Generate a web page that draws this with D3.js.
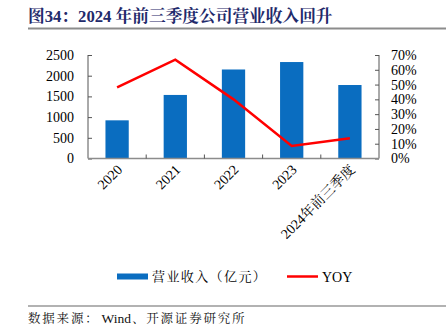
<!DOCTYPE html>
<html><head><meta charset="utf-8">
<script src="https://cdn.jsdelivr.net/npm/d3@7"></script>
<style>body{margin:0;background:#fff;}svg{display:block;}</style>
</head><body>
<script>
const categories = ["2020", "2021", "2022", "2023", "2024年前三季度"];
const revenue = [922, 1535, 2150, 2330, 1775];
const yoy = [0.481, 0.668, 0.40, 0.085, 0.137];
const leftTicks = [0, 500, 1000, 1500, 2000, 2500];
const rightTicks = [0, 0.1, 0.2, 0.3, 0.4, 0.5, 0.6, 0.7];
const title = "图34：2024 年前三季度公司营业收入回升";
const sourceParts = ["数据来源：", "Wind", "、开源证券研究所"];
const legendLabels = ["营业收入（亿元）", "YOY"];

(function () {
const W = 446, H = 336;
const svg = d3.select("body").append("svg").attr("width", W).attr("height", H);
const serif = "'Liberation Serif','Times New Roman','Noto Serif CJK SC','Noto Sans CJK SC',serif";

// title
svg.append("text").attr("x", 28).attr("y", 22).text(title)
  .attr("font-family", serif).attr("font-weight", "bold").attr("font-size", 16.7)
  .attr("fill", "#1F2A6B");
svg.append("line").attr("x1", 28).attr("x2", 446).attr("y1", 28.5).attr("y2", 28.5)
  .attr("stroke", "#8c8c8c").attr("stroke-width", 2);

const pL = 88, pR = 379, pT = 55, pB = 158.5;
const x = d3.scaleBand().domain(categories).range([pL, pR]).paddingInner(0.6).paddingOuter(0.3);
const xb = d3.scaleBand().domain(categories).range([pL, pR]);
const yL = d3.scaleLinear().domain([0, 2500]).range([pB, pT]);
const yR = d3.scaleLinear().domain([0, 0.7]).range([pB, pT]);

// bars
svg.append("g").selectAll("rect").data(revenue).join("rect")
  .attr("x", (d, i) => x(categories[i]))
  .attr("width", x.bandwidth())
  .attr("y", d => yL(d))
  .attr("height", d => pB - yL(d))
  .attr("fill", "#0A6DC0");

// left axis
const gL = svg.append("g").attr("transform", `translate(${pL},0)`)
  .call(d3.axisRight(yL).tickValues(leftTicks).tickSize(4).tickFormat(d3.format("d")));
gL.select(".domain").remove();
gL.append("line").attr("x1", 0).attr("x2", 0).attr("y1", pT).attr("y2", pB).attr("stroke", "#555");
gL.selectAll(".tick line").attr("stroke", "#555");
gL.selectAll(".tick text").attr("x", -14).attr("text-anchor", "end")
  .attr("font-family", serif).attr("font-size", 14).attr("fill", "#000");

// right axis
const gR = svg.append("g").attr("transform", `translate(${pR},0)`)
  .call(d3.axisLeft(yR).tickValues(rightTicks).tickSize(4).tickFormat(d3.format(".0%")));
gR.select(".domain").remove();
gR.append("line").attr("x1", 0).attr("x2", 0).attr("y1", pT).attr("y2", pB).attr("stroke", "#555");
gR.selectAll(".tick line").attr("stroke", "#555");
gR.selectAll(".tick text").attr("x", 12).attr("text-anchor", "start")
  .attr("font-family", serif).attr("font-size", 14).attr("fill", "#000");

// x axis
const gX = svg.append("g").attr("transform", `translate(0,${pB})`);
gX.append("line").attr("x1", pL).attr("x2", pR).attr("y1", 0).attr("y2", 0)
  .attr("stroke", "#8c8c8c").attr("stroke-width", 1.5);
gX.selectAll("line.t").data(categories.slice(1)).join("line").attr("class", "t")
  .attr("x1", d => xb(d)).attr("x2", d => xb(d)).attr("y1", 0).attr("y2", -4)
  .attr("stroke", "#555");
gX.selectAll("text").data(categories).join("text")
  .attr("transform", d => `translate(${xb(d) + xb.bandwidth() / 2 + 6},${12}) rotate(-45)`)
  .attr("text-anchor", "end")
  .attr("font-family", serif).attr("font-size", 14).attr("fill", "#000")
  .text(d => d);

// line
const line = d3.line().x((d, i) => xb(categories[i]) + xb.bandwidth() / 2).y(d => yR(d));
svg.append("path").datum(yoy).attr("d", line)
  .attr("fill", "none").attr("stroke", "#FF0000").attr("stroke-width", 2.5);

// legend
svg.append("rect").attr("x", 117).attr("y", 273.5).attr("width", 31).attr("height", 6).attr("fill", "#0A6DC0");
svg.append("text").attr("x", 152).attr("y", 281).text(legendLabels[0])
  .attr("font-family", serif).attr("font-size", 13).attr("letter-spacing", 1.4).attr("fill", "#000");
svg.append("line").attr("x1", 287).attr("x2", 318).attr("y1", 276.5).attr("y2", 276.5)
  .attr("stroke", "#FF0000").attr("stroke-width", 2.5);
svg.append("text").attr("x", 322).attr("y", 281.5).text(legendLabels[1])
  .attr("font-family", serif).attr("font-size", 14).attr("fill", "#000");

// bottom line & source
svg.append("line").attr("x1", 28).attr("x2", 446).attr("y1", 306).attr("y2", 306)
  .attr("stroke", "#666").attr("stroke-width", 1.2);
const src = svg.append("text").attr("x", 28).attr("y", 323)
  .attr("font-family", serif).attr("font-size", 12.5).attr("fill", "#111");
src.append("tspan").attr("letter-spacing", 1.8).text(sourceParts[0]);
src.append("tspan").attr("dx", 2).attr("font-size", 13.5).text(sourceParts[1]);
src.append("tspan").attr("dx", 1).attr("letter-spacing", 1.8).text(sourceParts[2]);
})();
</script>
</body></html>
